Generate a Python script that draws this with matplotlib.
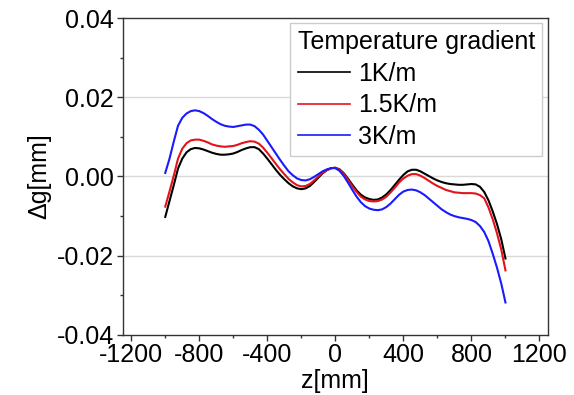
import numpy as np
import matplotlib
matplotlib.use("Agg")
import matplotlib.pyplot as plt
from matplotlib.ticker import MultipleLocator, FormatStrFormatter

plt.rcParams['font.family'] = ['Liberation Sans', 'DejaVu Sans']
plt.rcParams['axes.unicode_minus'] = False

# values, every 25 mm
z = np.arange(-1000, 1001, 25)

g_1k = [-0.0102, -0.0062, -0.0022, 0.0020, 0.0045, 0.0061, 0.0069, 0.0072, 0.0071, 0.0068,
        0.0064, 0.0060, 0.0057, 0.0055, 0.0055, 0.0056, 0.0058, 0.0062, 0.0067, 0.0071,
        0.0074, 0.0074, 0.0069, 0.0058, 0.0045, 0.0031, 0.0017, 0.0004, -0.0007, -0.0017,
        -0.0025, -0.0030, -0.0032, -0.0030, -0.0024, -0.0014, -0.0003, 0.0008, 0.0016, 0.0021,
        0.0022,
        0.0018, 0.0008, -0.0006, -0.0021, -0.0035, -0.0046, -0.0053, -0.0057, -0.0059, -0.0058,
        -0.0053, -0.0045, -0.0034, -0.0021, -0.0008, 0.0004, 0.0013, 0.0017, 0.0017, 0.0013,
        0.0007, 0.0001, -0.0005, -0.0010, -0.0014, -0.0017, -0.0019, -0.0020, -0.0021, -0.0021,
        -0.0020, -0.0019, -0.0020, -0.0026, -0.0039, -0.0060, -0.0088, -0.0120, -0.0158, -0.0207]

g_15k = [-0.0076, -0.0038, 0.0002, 0.0045, 0.0070, 0.0084, 0.0091, 0.0093, 0.0093, 0.0090,
         0.0086, 0.0081, 0.0078, 0.0076, 0.0075, 0.0076, 0.0077, 0.0080, 0.0084, 0.0087,
         0.0089, 0.0088, 0.0083, 0.0073, 0.0060, 0.0046, 0.0032, 0.0018, 0.0006, -0.0006,
         -0.0015, -0.0022, -0.0025, -0.0024, -0.0019, -0.0010, 0.0000, 0.0009, 0.0016, 0.0021,
         0.0022,
         0.0017, 0.0006, -0.0009, -0.0025, -0.0039, -0.0051, -0.0058, -0.0062, -0.0063, -0.0062,
         -0.0058, -0.0051, -0.0040, -0.0028, -0.0015, -0.0005, 0.0002, 0.0006, 0.0006, 0.0002,
         -0.0004, -0.0011, -0.0018, -0.0024, -0.0029, -0.0034, -0.0037, -0.0040, -0.0041, -0.0042,
         -0.0042, -0.0042, -0.0043, -0.0047, -0.0055, -0.0078, -0.0108, -0.0143, -0.0184, -0.0237]

g_3k = [0.0009, 0.0045, 0.0088, 0.0128, 0.0148, 0.0159, 0.0165, 0.0167, 0.0165, 0.0160,
        0.0153, 0.0145, 0.0138, 0.0132, 0.0128, 0.0126, 0.0125, 0.0127, 0.0129, 0.0131,
        0.0131, 0.0127, 0.0118, 0.0106, 0.0090, 0.0074, 0.0058, 0.0042, 0.0027, 0.0013,
        0.0003, -0.0005, -0.0009, -0.0010, -0.0007, -0.0001, 0.0006, 0.0013, 0.0018, 0.0021,
        0.0021,
        0.0014, 0.0001, -0.0016, -0.0034, -0.0051, -0.0065, -0.0075, -0.0081, -0.0084, -0.0085,
        -0.0083, -0.0077, -0.0068, -0.0057, -0.0046, -0.0038, -0.0034, -0.0033, -0.0035, -0.0040,
        -0.0047, -0.0056, -0.0065, -0.0074, -0.0083, -0.0090, -0.0096, -0.0100, -0.0103, -0.0105,
        -0.0107, -0.0110, -0.0115, -0.0125, -0.0140, -0.0163, -0.0195, -0.0230, -0.0270, -0.0318]

labels = ["1K/m", "1.5K/m", "3K/m"]
colors = ["#000000", "#e3131b", "#1a1aff"]

fig = plt.figure(figsize=(5.74, 3.95), dpi=100)
ax = fig.add_axes([0.2138, 0.152, 0.7409, 0.8024])

for g, lab, c in zip([g_1k, g_15k, g_3k], labels, colors):
    ax.plot(z, g, color=c, lw=1.5, label=lab, solid_joinstyle='round')

ax.set_xlim(-1250, 1250)
ax.set_ylim(-0.04, 0.04)
ax.xaxis.set_major_locator(MultipleLocator(400))
ax.xaxis.set_minor_locator(MultipleLocator(200))
ax.yaxis.set_major_locator(MultipleLocator(0.02))
ax.yaxis.set_minor_locator(MultipleLocator(0.01))
ax.yaxis.set_major_formatter(FormatStrFormatter('%.2f'))

for y in [-0.02, 0.0, 0.02]:
    ax.axhline(y, color='#d9d9d9', lw=1, zorder=0)

ax.tick_params(which='both', direction='out', top=False, right=False,
               labelsize=18, color='#333333', width=1)
ax.tick_params(which='major', length=4)
ax.tick_params(axis='x', which='major', pad=1.5)
ax.tick_params(axis='y', which='major', pad=2.5)
ax.tick_params(which='minor', length=2.5)
for s in ax.spines.values():
    s.set_color('#333333')
    s.set_linewidth(1)

ax.set_xlabel("z[mm]", fontsize=18, labelpad=2)
ax.set_ylabel("Δg[mm]", fontsize=18, labelpad=4)

leg = ax.legend(title="Temperature gradient", loc='upper right',
                bbox_to_anchor=(0.987, 0.985), fontsize=18, title_fontsize=18,
                alignment='left', handlelength=2.1, handletextpad=0.3,
                labelspacing=0.3, borderpad=0.3, borderaxespad=0,
                fancybox=False, framealpha=1)
leg.get_frame().set_edgecolor('#cccccc')
leg.get_frame().set_linewidth(1)
for h in leg.get_lines():
    h.set_linewidth(1.2)

fig.savefig("out.png", dpi=100)
